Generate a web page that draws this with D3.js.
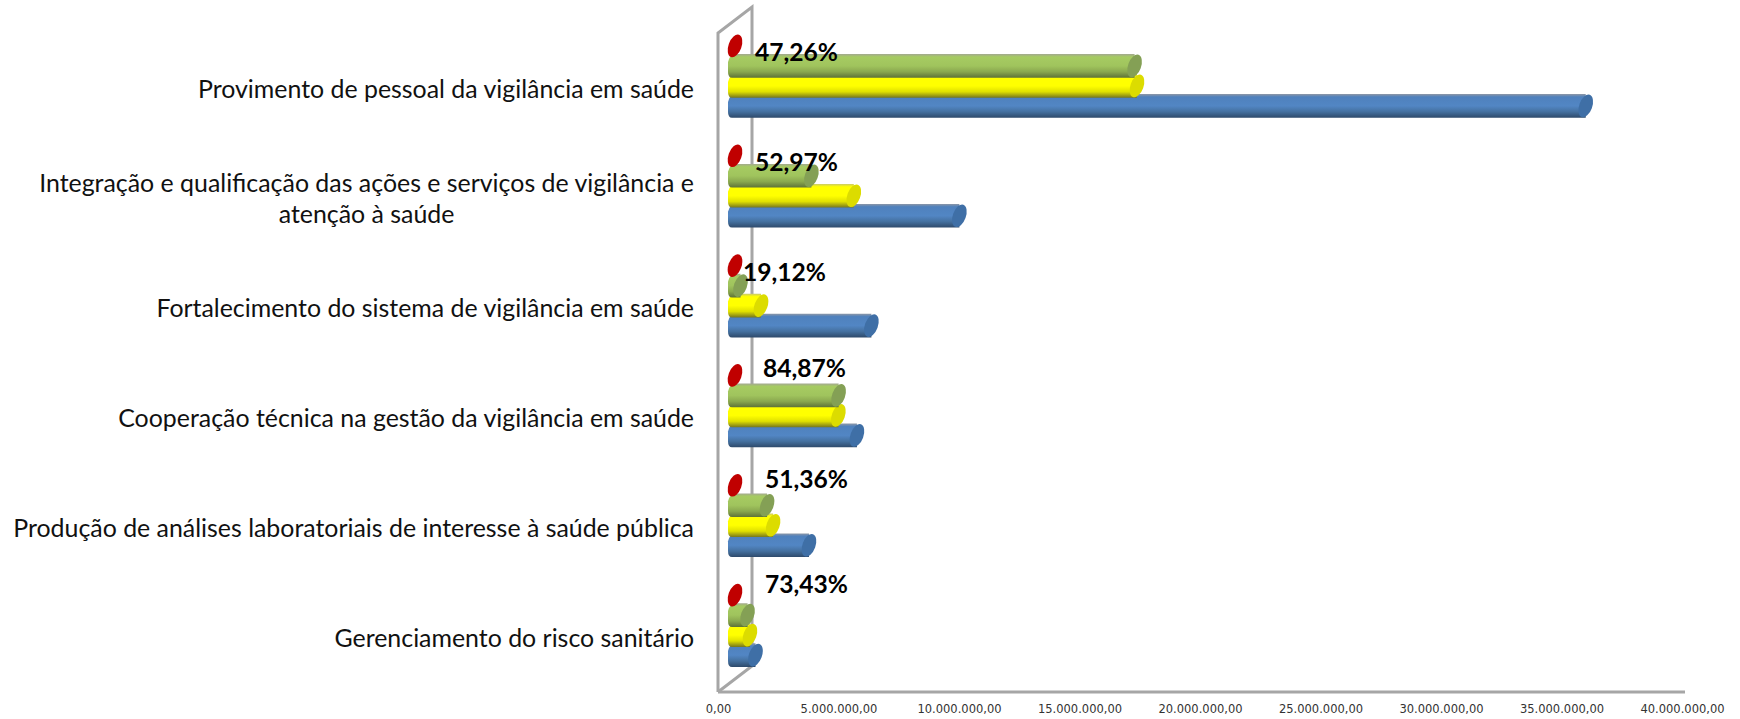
<!DOCTYPE html>
<html>
<head>
<meta charset="utf-8">
<script src="https://cdn.jsdelivr.net/npm/d3@7"></script>
<style>
  html, body { margin: 0; background: #fff; }
  svg { display: block; }
</style>
</head>
<body>
<svg id="chart" width="1740" height="719"></svg>
<script>
// Values, top row first
const categories = [
  "Provimento de pessoal da vigilância em saúde",
  "Integração e qualificação das ações e serviços de vigilância e atenção à saúde",
  "Fortalecimento do sistema de vigilância em saúde",
  "Cooperação técnica na gestão da vigilância em saúde",
  "Produção de análises laboratoriais de interesse à saúde pública",
  "Gerenciamento do risco sanitário"
];
const seriesBlue = [35300000, 9310000, 5660000, 5060000, 3070000, 850000];
const seriesYellow = [16680000, 4930000, 1080000, 4290000, 1580000, 620000];
const seriesGreen = [16580000, 3170000, 230000, 4300000, 1330000, 520000];
const seriesRed = [0, 0, 0, 0, 0, 0];
const percentLabels = ["47,26%", "52,97%", "19,12%", "84,87%", "51,36%", "73,43%"];
const xTicks = [0, 5000000, 10000000, 15000000, 20000000, 25000000, 30000000, 35000000, 40000000];

// Layout
const frontX = 718, floorY = 692, topY = 33;
const depthX = 34, depthY = 26;
const axisEnd = 1682;
const labelRight = 694;
const capRx = 6.5, capRy = 11.8, capTilt = 20;
const barStep = 20;
// hand placed percent labels, relative to the row's first bar start
const percentNudge = [[20, 6], [20, 7], [8, 7], [28, -7], [30, -6], [30, -11]];

const svg = d3.select("#chart");

const x = d3.scaleLinear().domain([0, 40000000]).range([frontX, axisEnd]);
const y = d3.scaleBand().domain(categories).range([topY, floorY]);

const ptBR = d3.formatLocale({ decimal: ",", thousands: ".", grouping: [3], currency: ["R$", ""] });

// Gradients for the cylinders
const palette = [
  { id: "blue", stops: ["#8d97a6", "#4f81bd", "#5286c4", "#44709f", "#2e4a6b"], cap: "#3f6fa6" },
  { id: "yellow", stops: ["#c9c96a", "#ffff00", "#ffff00", "#e0e000", "#77771c"], cap: "#dcdc00" },
  { id: "green", stops: ["#a3a98f", "#a6cb62", "#a0c45d", "#8aa84f", "#5f7338"], cap: "#84a055" },
  { id: "red", stops: ["#c00000", "#c00000", "#c00000", "#c00000", "#c00000"], cap: "#c00000" }
];
const defs = svg.append("defs");
palette.forEach(p => {
  const g = defs.append("linearGradient")
    .attr("id", "grad-" + p.id)
    .attr("x1", 0).attr("y1", 0).attr("x2", 0).attr("y2", 1);
  [0, 0.12, 0.5, 0.75, 1].forEach((o, i) => {
    g.append("stop").attr("offset", o).attr("stop-color", p.stops[i]);
  });
});

// Walls and floor
const frame = svg.append("g")
  .attr("fill", "none")
  .attr("stroke", "#a6a6a6")
  .attr("stroke-width", 3);
frame.append("path")
  .attr("d", `M${frontX},${floorY}V${topY}L${frontX + depthX},${topY - depthY}V${floorY - depthY}L${frontX},${floorY}`);

// Axis
const axis = d3.axisBottom(x)
  .tickValues(xTicks)
  .tickSize(0)
  .tickPadding(13)
  .tickFormat(ptBR.format(",.2f"));
const axisG = svg.append("g")
  .attr("transform", `translate(0,${floorY})`)
  .call(axis);
axisG.select(".domain")
  .attr("d", `M${frontX},0H1685`)
  .attr("stroke", "#a6a6a6")
  .attr("stroke-width", 3);
axisG.selectAll("text")
  .attr("font-family", "'DejaVu Sans', sans-serif")
  .attr("font-size", 11.5)
  .attr("fill", "#333");

// Bars, back series first so upper ones sit over lower ones
const series = [
  { key: "blue", values: seriesBlue, slot: 3 },
  { key: "yellow", values: seriesYellow, slot: 2 },
  { key: "green", values: seriesGreen, slot: 1 },
  { key: "red", values: seriesRed, slot: 0 }
];
const bars = svg.append("g");
series.forEach(s => {
  const p = palette.find(d => d.id === s.key);
  const g = bars.append("g").selectAll("g")
    .data(categories)
    .join("g")
    .attr("transform", (c, i) => {
      const cy = y(c) + y.bandwidth() / 2 - depthY / 2 - 29 + s.slot * barStep;
      return `translate(0,${cy})`;
    });
  g.each(function (c, i) {
    const sel = d3.select(this);
    const x0 = x(0) + depthX / 2;
    const x1 = x(s.values[i]) + depthX / 2;
    if (x1 > x0) {
      sel.append("path")
        .attr("d", `M${x0},${-capRy}H${x1}V${capRy}H${x0 - 3}Q${x0 - 7},${capRy} ${x0 - 7},${capRy - 6}V-4Q${x0 - 5},${-capRy} ${x0},${-capRy}Z`)
        .attr("fill", `url(#grad-${s.key})`);
    }
    sel.append("ellipse")
      .attr("rx", capRx)
      .attr("ry", capRy)
      .attr("transform", `translate(${x1},0) rotate(${capTilt})`)
      .attr("fill", p.cap);
  });
});

// Category labels
const catG = svg.append("g")
  .attr("font-family", "Lato, 'Open Sans', sans-serif")
  .attr("font-size", 24.9)
  .attr("fill", "#111");
categories.forEach(c => {
  const cy = y(c) + y.bandwidth() / 2;
  const cut = c.indexOf(" atenção");
  if (cut < 0) {
    catG.append("text")
      .attr("x", labelRight)
      .attr("y", cy + 1)
      .attr("dy", "0.35em")
      .attr("text-anchor", "end")
      .text(c);
  } else {
    const first = catG.append("text")
      .attr("y", cy - 14)
      .attr("dy", "0.35em")
      .attr("text-anchor", "middle")
      .text(c.slice(0, cut));
    const mid = labelRight - first.node().getComputedTextLength() / 2;
    first.attr("x", mid);
    catG.append("text")
      .attr("x", mid)
      .attr("y", cy + 17)
      .attr("dy", "0.35em")
      .attr("text-anchor", "middle")
      .text(c.slice(cut + 1));
  }
});

// Percent labels
svg.append("g")
  .selectAll("text")
  .data(percentLabels)
  .join("text")
  .attr("x", (d, i) => x(0) + depthX / 2 + percentNudge[i][0])
  .attr("y", (d, i) => y(categories[i]) + percentNudge[i][1] + 13)
  .attr("dy", "0.35em")
  .attr("font-family", "Lato, 'Open Sans', sans-serif")
  .attr("font-weight", 700)
  .attr("font-size", 24.6)
  .attr("fill", "#000")
  .text(d => d);
</script>
</body>
</html>
